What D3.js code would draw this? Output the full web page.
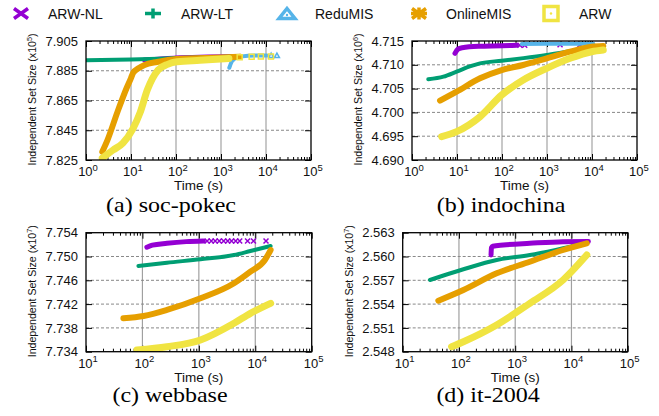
<!DOCTYPE html>
<html>
<head>
<meta charset="utf-8">
<script src="https://cdn.jsdelivr.net/npm/d3@7"></script>
<style>
body { margin: 0; background: #fff; }
svg { display: block; }
</style>
</head>
<body>
<div id="chart"></div>
<script>
// series (same order in every panel, later ones drawn on top)
const seriesNames = ["ARW-NL", "ARW-LT", "ReduMIS", "OnlineMIS", "ARW"];
const seriesColors = ["#9400d3", "#009e73", "#56b4e9", "#e69f00", "#f0e442"];

// (a) soc-pokec, set size x10^5, [time (s), size]
const pokecNL = [[20, 7.8922], [40, 7.8928], [100, 7.8936], [500, 7.8942], [2500, 7.8946]];
const pokecLT = [[1, 7.8921], [10, 7.8926], [100, 7.8935], [1000, 7.8943], [1700, 7.8945]];
const pokecRedu = [[1530, 7.8870], [1730, 7.8911], [2050, 7.8934], [2640, 7.8945], [6200, 7.8952], [10500, 7.8952]];
const pokecReduMarks = [[13000, 7.8952], [17500, 7.8952]];
const pokecOnline = [[2.3, 7.8306], [3, 7.8384], [5, 7.8573], [8, 7.8734], [10, 7.8801], [11.1, 7.8835], [15, 7.8869], [20, 7.8889], [38, 7.8909], [105, 7.8929], [1850, 7.8942], [2600, 7.8945]];
const pokecArw = [[2.3, 7.8263], [4, 7.8317], [6.6, 7.8364], [11, 7.8460], [16, 7.8570], [23, 7.8720], [40, 7.8855], [65, 7.8893], [105, 7.8910], [340, 7.8920], [1500, 7.8932]];
const pokecArwMarks = [[2600, 7.8940], [4800, 7.8944], [7700, 7.8945], [12900, 7.8946]];
const pokecYTicks = [7.825, 7.845, 7.865, 7.885, 7.905];

// (b) indochina, x10^6
const indoNL = [[9, 4.7124], [10.5, 4.7133], [13, 4.7136], [30, 4.7139], [100, 4.7140], [210, 4.7141]];
const indoNLMarks = [[250, 4.7141], [320, 4.7141], [1950, 4.7142], [5400, 4.7142]];
const indoLT = [[2.3, 4.70695], [5, 4.7075], [9.8, 4.70855], [20, 4.7097], [32.5, 4.7103], [98.5, 4.71086], [300, 4.7114], [985, 4.71206], [3000, 4.7128], [9800, 4.71347], [17800, 4.7138]];
const indoRedu = [[275, 4.71437], [1000, 4.71440], [5000, 4.71442], [10700, 4.71440]];
const indoOnline = [[4.2, 4.70246], [9.8, 4.70435], [32.5, 4.70716], [98.5, 4.7089], [296, 4.70996], [985, 4.71136], [3260, 4.71275], [9800, 4.7138], [17800, 4.71395]];
const indoArw = [[4.56, 4.6949], [9.8, 4.69595], [32.5, 4.6991], [98.5, 4.70365], [296, 4.7068], [985, 4.70926], [3260, 4.71136], [9800, 4.71275], [17800, 4.7131]];
const indoYTicks = [4.690, 4.695, 4.700, 4.705, 4.710, 4.715];

// (c) webbase, x10^7
const webNL = [[120, 7.75155], [150, 7.7519], [272, 7.75222], [600, 7.7525], [1200, 7.7526]];
const webNLMarks = [[1400, 7.7526], [1660, 7.7526], [1950, 7.7526], [2300, 7.7526], [2750, 7.7526], [3250, 7.7526], [3800, 7.7526], [4500, 7.7526], [5300, 7.7526], [7300, 7.7526], [9300, 7.7526], [15500, 7.7526]];
const webLT = [[85, 7.7484], [272, 7.74896], [1070, 7.74953], [4200, 7.75025], [8200, 7.75092], [18700, 7.75176]];
const webOnline = [[46, 7.73961], [105, 7.7400], [272, 7.74101], [1070, 7.74297], [4200, 7.7455], [8200, 7.74745], [14800, 7.74941], [18700, 7.75109]];
const webArw = [[80, 7.73429], [272, 7.73484], [1070, 7.73597], [4200, 7.73877], [8200, 7.74045], [18700, 7.74213]];
const webYTicks = [7.734, 7.738, 7.742, 7.746, 7.750, 7.754];

// (d) it-2004, x10^7
const itNL = [[372, 2.56019], [378, 2.56110], [400, 2.56130], [614, 2.56145], [1820, 2.56166], [7100, 2.56187], [20000, 2.5619]];
const itLT = [[30.5, 2.55704], [120, 2.55839], [468, 2.55956], [1820, 2.56019], [7100, 2.56103], [18700, 2.56166]];
const itOnline = [[43, 2.55443], [120, 2.55578], [468, 2.55788], [1820, 2.55934], [7100, 2.56082], [18700, 2.56166]];
const itArw = [[74, 2.54863], [120, 2.54926], [468, 2.55137], [1820, 2.5541], [7100, 2.55704], [18700, 2.56019]];
const itYTicks = [2.548, 2.551, 2.554, 2.557, 2.560, 2.563];

const lineWidths = [5, 4, 4, 6, 7];

const svg = d3.select("#chart").append("svg")
  .attr("width", 659)
  .attr("height", 416);

// small marker paths, centred on 0,0
function markerPath(i, s) {
  if (i === 0) return `M${-s},${-s}L${s},${s}M${-s},${s}L${s},${-s}`;
  if (i === 1) return `M${-s},0H${s}M0,${-s}V${s}`;
  if (i === 2) return `M0,${-s}L${s},${s * 0.8}L${-s},${s * 0.8}Z`;
  if (i === 3) return `M${-s},${-s}L${s},${s}M${-s},${s}L${s},${-s}M${-s},0H${s}`;
  return `M${-s},${-s}H${s}V${s}H${-s}Z`;
}

// legend
const legendSym = [21, 153, 287, 419, 551];
const legendText = [48, 181, 315, 446, 579];
seriesNames.forEach((name, i) => {
  const lg = svg.append("g").attr("transform", `translate(${legendSym[i]},13.5)`);
  if (i === 0) lg.append("path").attr("d", "M-7,-5L7,5M-7,5L7,-5");
  if (i === 1) lg.append("path").attr("d", "M-8,0H8M0,-5V5");
  if (i === 2) lg.append("path").attr("d", "M0,-5L8,5L-8,5Z");
  if (i === 3) lg.append("path").attr("d", "M-7,-5L7,5M-7,5L7,-5M-8,0H8M0,-6V6");
  if (i === 4) lg.append("path").attr("d", "M-7,-7H7V7H-7Z");
  lg.selectAll("path")
    .attr("fill", "none")
    .attr("stroke", seriesColors[i])
    .attr("stroke-width", 3.5);
  if (i === 2 || i === 4) {
    lg.append("circle").attr("r", 1.2).attr("cy", i === 2 ? 1.5 : 0).attr("fill", seriesColors[i]);
  }
  svg.append("text")
    .attr("x", legendText[i])
    .attr("y", 19)
    .attr("font-family", "Liberation Sans, Arial, sans-serif")
    .attr("font-size", "14px")
    .attr("fill", "#111")
    .text(name);
});

const panels = [
  { id: "a", left: 86, top: 41, width: 225, height: 119, xDomain: [1, 1e5], yTicks: pokecYTicks, exp: 5,
    series: [pokecNL, pokecLT, pokecRedu, pokecOnline, pokecArw],
    marks: [null, null, pokecReduMarks, null, pokecArwMarks],
    gridColor: "#c8c8c8", gridWidth: 2, caption: "(a) soc-pokec", capX: 171, capY: 212 },
  { id: "b", left: 412, top: 41, width: 225, height: 119, xDomain: [1, 1e5], yTicks: indoYTicks, exp: 6,
    series: [indoNL, indoLT, indoRedu, indoOnline, indoArw],
    marks: [indoNLMarks, null, null, null, null],
    gridColor: "#c8c8c8", gridWidth: 2, caption: "(b) indochina", capX: 501, capY: 212 },
  { id: "c", left: 86, top: 232.7, width: 225.7, height: 119, xDomain: [10, 1e5], yTicks: webYTicks, exp: 7,
    series: [webNL, webLT, null, webOnline, webArw],
    marks: [webNLMarks, null, null, null, null],
    gridColor: "#a0a0a0", gridWidth: 1.2, caption: "(c) webbase", capX: 170, capY: 402 },
  { id: "d", left: 402.7, top: 232.7, width: 225, height: 119, xDomain: [10, 1e5], yTicks: itYTicks, exp: 7,
    series: [itNL, itLT, null, itOnline, itArw],
    marks: [null, null, null, null, null],
    gridColor: "#a0a0a0", gridWidth: 1.2, caption: "(d) it-2004", capX: 488, capY: 402 }
];

function drawPanel(p) {
  const w = p.width, h = p.height;
  const g = svg.append("g").attr("transform", `translate(${p.left},${p.top})`);
  const x = d3.scaleLog().domain(p.xDomain).range([0, w]);
  const y = d3.scaleLinear().domain([p.yTicks[0], p.yTicks[p.yTicks.length - 1]]).range([h, 0]);

  const decades = [];
  for (let e = Math.log10(p.xDomain[0]); e <= Math.log10(p.xDomain[1]) + 0.01; e++) decades.push(Math.pow(10, e));
  const minors = [];
  decades.slice(0, -1).forEach(d => { for (let k = 2; k < 10; k++) minors.push(d * k); });

  // grid
  g.selectAll("line.vgrid")
    .data(decades.slice(1, -1))
    .join("line")
    .attr("class", "vgrid")
    .attr("x1", d => x(d)).attr("x2", d => x(d))
    .attr("y1", 0).attr("y2", h)
    .attr("stroke", p.gridColor)
    .attr("stroke-width", p.gridWidth);
  g.selectAll("line.hgrid")
    .data(p.yTicks.slice(1, -1))
    .join("line")
    .attr("class", "hgrid")
    .attr("x1", 0).attr("x2", w)
    .attr("y1", d => y(d)).attr("y2", d => y(d))
    .attr("stroke", "#888")
    .attr("stroke-width", 1)
    .attr("stroke-dasharray", "3,2");

  // ticks, pointing inward on all four sides
  const tickAxes = [
    [d3.axisBottom(x).tickValues(decades).tickSize(-6), h],
    [d3.axisBottom(x).tickValues(minors).tickSize(-3), h],
    [d3.axisTop(x).tickValues(decades).tickSize(-6), 0],
    [d3.axisTop(x).tickValues(minors).tickSize(-3), 0]
  ];
  tickAxes.forEach(([ax, ty]) => {
    g.append("g").attr("transform", `translate(0,${ty})`)
      .call(ax.tickFormat("").tickSizeOuter(0))
      .call(s => s.select(".domain").remove());
  });
  g.append("g").call(d3.axisLeft(y).tickValues(p.yTicks).tickSize(-6).tickFormat("").tickSizeOuter(0))
    .call(s => s.select(".domain").remove());
  g.append("g").attr("transform", `translate(${w},0)`)
    .call(d3.axisRight(y).tickValues(p.yTicks).tickSize(-6).tickFormat("").tickSizeOuter(0))
    .call(s => s.select(".domain").remove());
  g.selectAll(".tick line").attr("stroke", "#000");

  // data
  const clipId = "clip-" + p.id;
  g.append("clipPath").attr("id", clipId)
    .append("rect").attr("width", w).attr("height", h);
  const plot = g.append("g").attr("clip-path", `url(#${clipId})`);
  const line = d3.line()
    .x(d => x(d[0]))
    .y(d => y(d[1]))
    .curve(d3.curveMonotoneX);

  p.series.forEach((data, i) => {
    if (data) {
      plot.append("path")
        .datum(data)
        .attr("d", line)
        .attr("fill", "none")
        .attr("stroke", seriesColors[i])
        .attr("stroke-width", lineWidths[i])
        .attr("stroke-linecap", "round")
        .attr("stroke-linejoin", "round");
    }
    const marks = p.marks[i];
    if (marks) {
      plot.selectAll(null)
        .data(marks)
        .join("path")
        .attr("transform", d => `translate(${x(d[0])},${y(d[1])})`)
        .attr("d", markerPath(i, 2.5))
        .attr("fill", "none")
        .attr("stroke", seriesColors[i])
        .attr("stroke-width", 1.5);
    }
  });

  // frame
  g.append("rect")
    .attr("width", w).attr("height", h)
    .attr("fill", "none")
    .attr("stroke", "#000")
    .attr("stroke-width", 1.3);

  const font = "Liberation Sans, Arial, sans-serif";

  // y tick labels
  g.selectAll("text.ylab")
    .data(p.yTicks)
    .join("text")
    .attr("class", "ylab")
    .attr("x", -8)
    .attr("y", d => y(d))
    .attr("dy", "0.36em")
    .attr("text-anchor", "end")
    .attr("font-family", font)
    .attr("font-size", "13px")
    .attr("fill", "#111")
    .text(d => d3.format(".3f")(d));

  // x tick labels: 10^e
  const xl = g.selectAll("text.xlab")
    .data(decades)
    .join("text")
    .attr("class", "xlab")
    .attr("x", d => x(d) + 2)
    .attr("y", h + 16)
    .attr("text-anchor", "middle")
    .attr("font-family", font)
    .attr("font-size", "13px")
    .attr("fill", "#111");
  xl.append("tspan").text("10");
  xl.append("tspan")
    .attr("dy", -5.5)
    .attr("font-size", "9.5px")
    .text(d => Math.round(Math.log10(d)));

  // axis titles
  g.append("text")
    .attr("x", w / 2)
    .attr("y", h + 30)
    .attr("text-anchor", "middle")
    .attr("font-family", font)
    .attr("font-size", "13.5px")
    .attr("fill", "#111")
    .text("Time (s)");

  const yt = g.append("text")
    .attr("transform", `translate(-54,${h / 2 - 1}) rotate(-90)`)
    .attr("dy", "0.35em")
    .attr("text-anchor", "middle")
    .attr("font-family", font)
    .attr("font-size", "11.5px")
    .attr("fill", "#111")
    .attr("textLength", 132)
    .attr("lengthAdjust", "spacingAndGlyphs");
  yt.append("tspan").text("Independent Set Size (x10");
  yt.append("tspan").attr("dy", -4).attr("font-size", "8px").text(p.exp);
  yt.append("tspan").attr("dy", 4).text(")");

  // caption
  svg.append("g")
    .attr("transform", `translate(${p.capX},${p.capY}) scale(1.2,1)`)
    .append("text")
    .attr("text-anchor", "middle")
    .attr("font-family", "Liberation Serif, Times New Roman, serif")
    .attr("font-size", "20px")
    .attr("fill", "#000")
    .text(p.caption);
}

panels.forEach(drawPanel);
</script>
</body>
</html>
